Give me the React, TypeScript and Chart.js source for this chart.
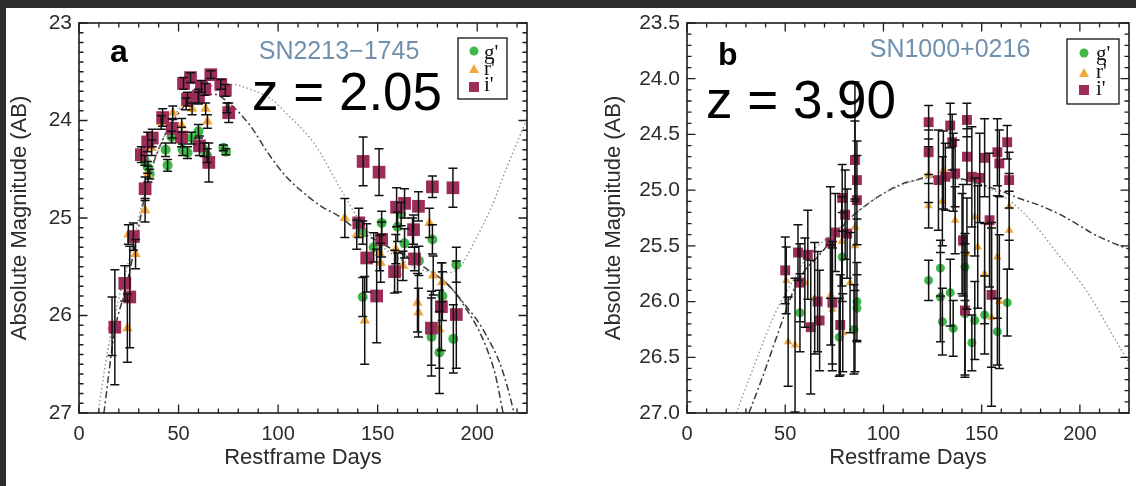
import React, { useEffect, useRef } from 'react';
import { Chart, registerables } from 'chart.js';

Chart.register(...registerables);

// ---------- Panel a: SN2213-1745 ----------
const A_NAME = 'SN2213\u22121745';
const A_REDSHIFT = 'z = 2.05';
const A_Y_TICKS = [23, 24, 25, 26, 27];

const A_G_DAY = [33.0, 34.5, 35.5, 43.5, 44.5, 46.5, 52.0, 54.5, 56.5, 60.0, 62.8, 64.3, 72.5, 73.8,
  142.5, 142.5, 148.0, 152.0, 160.0, 161.8, 163.5, 170.7, 177.0, 177.5, 181.0, 182.5, 188.0, 189.5];
const A_G_MAG = [24.41, 24.48, 24.55, 24.30, 24.46, 24.17, 24.30, 24.33, 24.18, 24.11, 24.30, 24.36, 24.28, 24.32,
  25.15, 25.81, 25.30, 25.05, 25.09, 24.96, 25.26, 25.44, 26.22, 25.22, 26.38, 25.80, 26.24, 25.48];
const A_G_ERR = [0.05, 0.06, 0.05, 0.07, 0.06, 0.06, 0.06, 0.06, 0.06, 0.07, 0.07, 0.07, 0.03, 0.03,
  0.12, 0.20, 0.15, 0.12, 0.15, 0.12, 0.15, 0.15, 0.40, 0.15, 0.42, 0.25, 0.35, 0.18];

const A_R_DAY = [16.6, 24.3, 24.8, 28.4, 33.2, 34.6, 36.5, 41.3, 47.1, 51.6, 53.8, 56.8, 60.0, 63.6, 64.5, 74.3,
  133.5, 139.5, 143.5, 151.0, 151.5, 159.1, 160.0, 162.7, 167.5, 170.0, 170.5, 176.0, 177.9, 181.0, 182.3];
const A_R_MAG = [26.11, 26.13, 25.17, 25.37, 24.92, 24.55, 24.28, 24.02, 23.92, 24.05, 23.83, 23.88, 23.77, 23.88, 24.01, 23.87,
  25.00, 25.17, 26.05, 25.36, 25.46, 25.32, 25.56, 25.49, 25.15, 25.87, 25.97, 25.05, 25.59, 26.14, 25.66];
const A_R_ERR = [0.30, 0.35, 0.10, 0.15, 0.12, 0.08, 0.08, 0.07, 0.07, 0.07, 0.06, 0.06, 0.06, 0.06, 0.07, 0.05,
  0.20, 0.15, 0.45, 0.18, 0.20, 0.15, 0.20, 0.15, 0.15, 0.30, 0.25, 0.15, 0.20, 0.40, 0.20];

const A_I_DAY = [18.0, 23.0, 25.5, 27.3, 31.3, 33.2, 34.5, 36.8, 42.0, 46.8, 51.5, 52.5, 54.5, 56.0, 60.0, 61.5, 63.2, 60.5,
  65.2, 66.2, 71.2, 73.5, 75.2,
  140.5, 142.7, 144.5, 149.5, 150.7, 152.0, 158.5, 159.5, 163.5, 168.0, 168.5, 170.5, 177.5, 177.0, 182.0, 187.8, 189.5];
const A_I_MAG = [26.12, 25.67, 25.81, 25.19, 24.35, 24.70, 24.22, 24.18, 23.97, 24.08, 24.17, 23.62, 23.78, 23.56, 23.75, 23.65, 23.68, 24.26,
  24.43, 23.53, 23.63, 23.69, 23.92,
  25.05, 24.42, 25.41, 25.80, 24.53, 25.22, 25.55, 24.89, 24.85, 25.12, 25.42, 24.88, 24.68, 26.13, 25.91, 24.69, 25.99];
const A_I_ERR = [0.59, 0.18, 0.52, 0.14, 0.08, 0.12, 0.10, 0.09, 0.09, 0.10, 0.10, 0.06, 0.07, 0.05, 0.07, 0.06, 0.06, 0.10,
  0.20, 0.04, 0.05, 0.06, 0.10,
  0.15, 0.25, 0.35, 0.48, 0.24, 0.18, 0.22, 0.20, 0.15, 0.15, 0.12, 0.15, 0.11, 0.38, 0.45, 0.20, 0.55];

// model light curves
const A_DOT_DAY = [9.5, 14.5, 19.8, 25.2, 32.3, 41.3, 50.2, 59.1, 68.0, 77.0, 85.9, 96.6, 103.8, 117.9, 130.5, 139.5,
  148.4, 159.5, 176.0, 184.0, 191.0, 198.4, 207.3, 214.5, 225.0];
const A_DOT_MAG = [27.0, 26.35, 25.84, 25.42, 24.81, 24.23, 23.88, 23.73, 23.64, 23.63, 23.68, 23.78, 23.92, 24.23, 24.67, 24.98,
  25.22, 25.40, 25.55, 25.56, 25.51, 25.25, 24.88, 24.50, 23.98];
const A_DASH1_DAY = [12.5, 18.0, 23.4, 28.8, 34.1, 41.3, 50.2, 59.1, 68.0, 75.2, 85.9, 94.8, 103.8, 112.7, 121.6, 130.5,
  139.5, 148.4, 157.3, 166.3, 175.2, 184.1, 189.5, 195.0, 200.0, 205.0, 209.0, 213.0];
const A_DASH1_MAG = [27.0, 26.15, 25.73, 25.22, 24.67, 24.23, 23.92, 23.75, 23.73, 23.82, 24.05, 24.33, 24.57, 24.74, 24.88, 24.98,
  25.12, 25.22, 25.32, 25.41, 25.53, 25.66, 25.78, 25.95, 26.12, 26.35, 26.60, 27.0];
const A_DASH2_DAY = [184.1, 189.5, 195.0, 200.0, 205.0, 211.0, 215.0, 218.5];
const A_DASH2_MAG = [25.66, 25.78, 25.92, 26.05, 26.22, 26.47, 26.72, 27.0];

// ---------- Panel b: SN1000+0216 ----------
const B_NAME = 'SN1000+0216';
const B_REDSHIFT = 'z = 3.90';
const B_Y_TICKS = [23.5, 24.0, 24.5, 25.0, 25.5, 26.0, 26.5, 27.0];

const B_G_DAY = [57.5, 77.5, 79.0, 85.0, 86.5, 86.5, 123.0, 129.0, 129.0, 130.0, 134.0, 135.5, 141.5, 141.5, 145.0, 146.5,
  151.5, 158.0, 163.0];
const B_G_MAG = [26.10, 26.32, 25.60, 26.25, 26.00, 26.06, 25.81, 25.70, 25.96, 26.18, 25.92, 26.24, 25.69, 26.11, 26.37, 26.17,
  26.12, 26.27, 26.01];
const B_G_ERR = [0.35, 0.35, 0.40, 0.40, 0.35, 0.30, 0.18, 0.25, 0.40, 0.30, 0.30, 0.25, 0.30, 0.55, 0.25, 0.35,
  0.35, 0.30, 0.30];

const B_R_DAY = [50.5, 51.5, 55.0, 60.0, 65.0, 73.2, 74.0, 78.8, 79.3, 83.0, 85.5, 85.5, 123.0, 123.0, 130.5, 130.0,
  135.5, 136.5, 140.0, 142.5, 146.5, 148.0, 151.5, 155.0, 158.0, 159.0, 164.0, 164.0];
const B_R_MAG = [25.81, 26.36, 26.39, 25.83, 25.97, 25.94, 26.07, 25.46, 26.28, 25.83, 25.33, 25.50, 24.86, 25.14, 24.82, 25.10,
  24.84, 25.27, 25.48, 25.57, 25.24, 25.51, 25.75, 26.14, 25.60, 26.00, 25.15, 25.36];
const B_R_ERR = [0.30, 0.40, 0.60, 0.40, 0.50, 0.45, 0.55, 0.40, 0.35, 0.45, 1.30, 0.40, 0.25, 0.20, 0.35, 0.40,
  0.35, 0.30, 0.45, 0.50, 0.35, 0.55, 0.45, 0.80, 0.55, 0.60, 0.30, 0.35];

const B_I_DAY = [50.0, 56.5, 57.5, 61.5, 63.0, 66.5, 67.5, 73.0, 74.0, 75.5, 78.0, 79.0, 80.5, 81.5, 85.5, 86.5, 86.5,
  123.0, 123.0, 128.0, 131.5, 134.0, 135.0, 136.5, 140.5, 141.5, 142.5, 142.5, 145.0, 149.0, 151.5, 154.0, 155.0,
  158.0, 159.0, 163.0, 164.0];
const B_I_MAG = [25.72, 25.56, 25.83, 25.58, 26.23, 26.00, 26.17, 25.47, 26.01, 25.38, 26.21, 25.07, 25.22, 25.39, 24.73, 24.91, 25.09,
  24.39, 24.66, 24.91, 24.88, 24.42, 24.57, 24.85, 25.45, 26.08, 24.37, 24.70, 24.88, 24.89, 24.71, 25.27, 25.94,
  24.66, 24.76, 24.57, 24.91];
const B_I_ERR = [0.30, 0.25, 0.35, 0.40, 0.60, 0.45, 0.45, 0.50, 0.55, 0.35, 0.45, 0.30, 0.40, 0.40, 0.35, 0.35, 0.40,
  0.15, 0.20, 0.45, 0.30, 0.20, 0.25, 0.30, 0.50, 0.60, 0.15, 0.25, 0.45, 0.40, 0.35, 0.60, 0.65,
  0.30, 0.30, 0.15, 0.25];

const B_DOT_DAY = [25.0, 31.5, 38.0, 45.0, 50.0, 56.0, 61.0, 70.0, 80.0, 90.0, 100.0, 110.0, 120.0, 130.0, 140.0, 150.0,
  158.0, 164.0, 175.0, 190.0, 200.0, 206.5, 215.0, 225.0];
const B_DOT_MAG = [27.0, 26.70, 26.40, 26.10, 25.93, 25.75, 25.60, 25.45, 25.30, 25.15, 25.03, 24.95, 24.90, 24.89, 24.91, 24.96,
  25.02, 25.09, 25.27, 25.60, 25.82, 25.99, 26.25, 26.55];
const B_DASH_DAY = [31.5, 38.0, 45.0, 50.0, 55.0, 60.0, 66.5, 75.0, 82.0, 90.0, 100.0, 110.0, 116.5, 123.0, 130.0, 140.0,
  150.0, 160.0, 170.0, 180.0, 190.0, 200.0, 206.5, 215.0, 225.0];
const B_DASH_MAG = [27.0, 26.70, 26.35, 26.10, 25.87, 25.72, 25.60, 25.42, 25.27, 25.15, 25.03, 24.94, 24.91, 24.88, 24.88, 24.90,
  24.95, 25.01, 25.08, 25.14, 25.22, 25.32, 25.39, 25.46, 25.53];

// ---------- shared ----------
const X_TICKS = [0, 50, 100, 150, 200];
const BANDS = ["g'", "r'", "i'"];
const X_TITLE = 'Restframe Days';
const Y_TITLE = 'Absolute Magnitude (AB)';

const GREEN = '#3fb84a';
const ORANGE = '#f3a83a';
const MAROON = '#9d2c59';
const NAME_COLOR = '#7190ae';
const INK = '#2b2b2b';
const SANS = '"Liberation Sans", Arial, Helvetica, sans-serif';
const SERIF = '"Liberation Serif", "Times New Roman", serif';

const pts = (d: number[], m: number[]) => d.map((x, i) => ({ x, y: m[i] }));

// Inward major/minor ticks on all four sides, plus the plot frame.
const frameTicks = {
  id: 'frameTicks',
  afterDatasetsDraw(chart: any, _args: any, o: any) {
    const { ctx, chartArea: a } = chart;
    const xs = chart.scales.x;
    const ys = chart.scales.y;
    ctx.save();
    ctx.strokeStyle = '#1c1c1c';
    ctx.lineWidth = 1.3;
    ctx.beginPath();
    const isMajor = (v: number, step: number) => Math.abs(v / step - Math.round(v / step)) < 1e-6;
    const nx = Math.floor((xs.max - xs.min) / o.xMinor + 1e-9);
    for (let k = 0; k <= nx; k++) {
      const v = xs.min + k * o.xMinor;
      const len = isMajor(v, o.xMajor) ? 8.5 : 4.5;
      const px = xs.getPixelForValue(v);
      ctx.moveTo(px, a.bottom);
      ctx.lineTo(px, a.bottom - len);
      ctx.moveTo(px, a.top);
      ctx.lineTo(px, a.top + len);
    }
    const ny = Math.floor((ys.max - ys.min) / o.yMinor + 1e-9);
    for (let k = 0; k <= ny; k++) {
      const v = ys.min + k * o.yMinor;
      const len = isMajor(v, o.yMajor) ? 8.5 : 4.5;
      const py = ys.getPixelForValue(v);
      ctx.moveTo(a.left, py);
      ctx.lineTo(a.left + len, py);
      ctx.moveTo(a.right, py);
      ctx.lineTo(a.right - len, py);
    }
    ctx.stroke();
    ctx.lineWidth = 1.6;
    ctx.strokeRect(a.left, a.top, a.right - a.left, a.bottom - a.top);
    ctx.restore();
  },
};

// Vertical error bars with caps, taken from each dataset's `errors` list.
const errorBars = {
  id: 'errorBars',
  afterDatasetsDraw(chart: any) {
    const { ctx, chartArea: a } = chart;
    const xs = chart.scales.x;
    const ys = chart.scales.y;
    ctx.save();
    ctx.beginPath();
    ctx.rect(a.left, a.top, a.right - a.left, a.bottom - a.top);
    ctx.clip();
    ctx.strokeStyle = '#111';
    ctx.lineWidth = 1.5;
    chart.data.datasets.forEach((ds: any) => {
      if (!ds.errors) return;
      ctx.beginPath();
      ds.data.forEach((p: any, i: number) => {
        const e = ds.errors[i];
        const px = xs.getPixelForValue(p.x);
        const y1 = ys.getPixelForValue(p.y - e);
        const y2 = ys.getPixelForValue(p.y + e);
        ctx.moveTo(px, y1);
        ctx.lineTo(px, y2);
        ctx.moveTo(px - 4.5, y1);
        ctx.lineTo(px + 4.5, y1);
        ctx.moveTo(px - 4.5, y2);
        ctx.lineTo(px + 4.5, y2);
      });
      ctx.stroke();
    });
    ctx.restore();
  },
};

// Panel letter, object name, redshift and the band key.
const annotations = {
  id: 'annotations',
  afterDraw(chart: any, _args: any, o: any) {
    const { ctx } = chart;
    ctx.save();
    ctx.textBaseline = 'alphabetic';
    ctx.fillStyle = '#000';
    ctx.font = `bold 32px ${SANS}`;
    ctx.textAlign = 'left';
    ctx.fillText(o.letter, o.letterAt[0], o.letterAt[1]);

    ctx.fillStyle = NAME_COLOR;
    ctx.font = `25px ${SANS}`;
    ctx.textAlign = 'center';
    ctx.textBaseline = 'middle';
    ctx.fillText(o.name, o.nameAt[0], o.nameAt[1]);

    ctx.fillStyle = '#000';
    ctx.font = `53px ${SANS}`;
    ctx.textAlign = 'left';
    ctx.textBaseline = 'alphabetic';
    ctx.fillText(o.redshift, o.zAt[0], o.zAt[1]);

    const [bx, by, bw, bh] = o.box;
    ctx.strokeStyle = '#111';
    ctx.lineWidth = 1.3;
    ctx.fillStyle = '#fff';
    ctx.fillRect(bx, by, bw, bh);
    ctx.strokeRect(bx, by, bw, bh);
    const colors = [GREEN, ORANGE, MAROON];
    o.symY.forEach((sy: number, i: number) => {
      const sx = o.symX;
      ctx.fillStyle = colors[i];
      ctx.beginPath();
      if (i === 0) ctx.arc(sx, sy, 4.5, 0, Math.PI * 2);
      else if (i === 1) {
        ctx.moveTo(sx, sy - 5);
        ctx.lineTo(sx + 5, sy + 4);
        ctx.lineTo(sx - 5, sy + 4);
        ctx.closePath();
      } else ctx.rect(sx - 5, sy - 5, 10, 10);
      ctx.fill();
      ctx.fillStyle = '#111';
      ctx.font = `21px ${SERIF}`;
      ctx.textAlign = 'left';
      ctx.fillText(BANDS[i], o.textX, o.textY[i]);
    });
    ctx.restore();
  },
};

function curve(d: number[], m: number[], color: string, dash: number[], width: number) {
  return {
    type: 'line',
    data: pts(d, m),
    borderColor: color,
    borderWidth: width,
    borderDash: dash,
    pointRadius: 0,
    fill: false,
    showLine: true,
    cubicInterpolationMode: 'monotone',
    order: 10,
  };
}

function markers(d: number[], m: number[], err: number[], color: string, style: string, r: number, order: number) {
  return {
    type: 'scatter',
    data: pts(d, m),
    errors: err,
    pointStyle: style,
    pointRadius: r,
    pointBackgroundColor: color,
    pointBorderWidth: 0,
    showLine: false,
    order,
  };
}

function makeConfig(p: any) {
  return {
    type: 'scatter',
    data: { datasets: p.datasets },
    options: {
      animation: false,
      responsive: false,
      devicePixelRatio: 1,
      events: [],
      layout: { padding: { left: 0, top: 23, right: p.padRight, bottom: 0 } },
      plugins: {
        legend: { display: false },
        tooltip: { enabled: false },
        frameTicks: { xMinor: 10, xMajor: 50, yMinor: 0.1, yMajor: p.yMajor },
        annotations: p.annot,
      },
      scales: {
        x: {
          type: 'linear',
          min: 0,
          max: 225,
          afterFit: (s: any) => { s.height = 73; },
          afterBuildTicks: (s: any) => { s.ticks = X_TICKS.map((v) => ({ value: v })); },
          grid: { display: false, drawTicks: false },
          border: { display: false },
          ticks: { padding: 9, autoSkip: false, maxRotation: 0, color: INK, font: { family: SANS, size: 20 } },
          title: { display: true, text: X_TITLE, color: INK, font: { family: SANS, size: 22 }, padding: { top: 0, bottom: 15 } },
        },
        y: {
          type: 'linear',
          reverse: true,
          min: p.yMin,
          max: p.yMax,
          afterFit: (s: any) => { s.width = p.yWidth; },
          afterBuildTicks: (s: any) => { s.ticks = p.yTicks.map((v: number) => ({ value: v })); },
          grid: { display: false, drawTicks: false },
          border: { display: false },
          ticks: {
            padding: 7,
            autoSkip: false,
            color: INK,
            font: { family: SANS, size: 21 },
            callback: (v: any) => (p.yDecimals ? Number(v).toFixed(1) : String(v)),
          },
          title: { display: true, text: Y_TITLE, color: INK, font: { family: SANS, size: 22 }, padding: { top: p.yTitlePad, bottom: 0 } },
        },
      },
    },
    plugins: [frameTicks, errorBars, annotations],
  };
}

const PANEL_A = {
  yMin: 23, yMax: 27, yMajor: 1, yTicks: A_Y_TICKS, yDecimals: false, yWidth: 79, yTitlePad: 7, padRight: 33,
  datasets: [
    curve(A_DOT_DAY, A_DOT_MAG, '#8c8c8c', [1.5, 2.5], 1.3),
    curve(A_DASH1_DAY, A_DASH1_MAG, '#3a3a3a', [7, 3, 2, 3], 1.5),
    curve(A_DASH2_DAY, A_DASH2_MAG, '#3a3a3a', [7, 3, 2, 3], 1.5),
    markers(A_G_DAY, A_G_MAG, A_G_ERR, GREEN, 'circle', 5, 3),
    markers(A_R_DAY, A_R_MAG, A_R_ERR, ORANGE, 'triangle', 6, 2),
    markers(A_I_DAY, A_I_MAG, A_I_ERR, MAROON, 'rect', 9, 1),
  ],
  annot: {
    letter: 'a', letterAt: [110, 62],
    name: A_NAME, nameAt: [339, 52],
    redshift: A_REDSHIFT, zAt: [252, 110],
    box: [458, 38, 49, 61], symX: 474, symY: [51, 69, 87], textX: 484, textY: [59, 75, 91],
  },
};

const PANEL_B = {
  yMin: 23.5, yMax: 27.0, yMajor: 0.5, yTicks: B_Y_TICKS, yDecimals: true, yWidth: 127, yTitlePad: 41, padRight: 0,
  datasets: [
    curve(B_DOT_DAY, B_DOT_MAG, '#8c8c8c', [1.5, 2.5], 1.3),
    curve(B_DASH_DAY, B_DASH_MAG, '#3a3a3a', [7, 3, 2, 3], 1.5),
    markers(B_G_DAY, B_G_MAG, B_G_ERR, GREEN, 'circle', 4.5, 3),
    markers(B_R_DAY, B_R_MAG, B_R_ERR, ORANGE, 'triangle', 5, 2),
    markers(B_I_DAY, B_I_MAG, B_I_ERR, MAROON, 'rect', 7, 1),
  ],
  annot: {
    letter: 'b', letterAt: [158, 65],
    name: B_NAME, nameAt: [390, 50],
    redshift: B_REDSHIFT, zAt: [146, 118],
    box: [507, 39, 52, 65], symX: 524, symY: [53, 73, 90], textX: 536, textY: [60, 78, 95],
  },
};

function Panel({ spec, left, width }: { spec: any; left: number; width: number }) {
  const ref = useRef<HTMLCanvasElement>(null);
  useEffect(() => {
    const chart = new Chart(ref.current as HTMLCanvasElement, makeConfig(spec) as any);
    return () => chart.destroy();
  }, [spec]);
  return (
    <canvas
      ref={ref}
      width={width}
      height={486}
      style={{ position: 'absolute', left, top: 0, width, height: 486 }}
    />
  );
}

export default function App() {
  return (
    <div style={{ position: 'fixed', left: 0, top: 0, width: 1136, height: 486, background: '#fff', overflow: 'hidden' }}>
      <Panel spec={PANEL_A} left={0} width={560} />
      <Panel spec={PANEL_B} left={560} width={576} />
      <div style={{ position: 'absolute', left: 0, top: 0, width: 1136, height: 8, background: '#2e2e2e' }} />
      <div style={{ position: 'absolute', left: 0, top: 0, width: 6, height: 486, background: '#2e2e2e' }} />
    </div>
  );
}
